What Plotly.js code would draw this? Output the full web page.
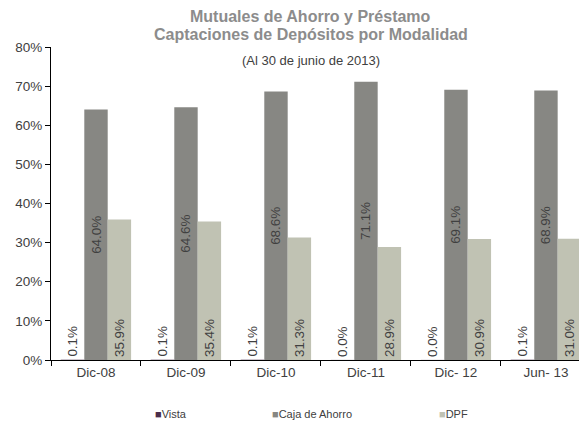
<!DOCTYPE html>
<html>
<head>
<meta charset="utf-8">
<script src="https://cdn.plot.ly/plotly-3.0.1.min.js"></script>
<style>html,body{margin:0;padding:0;background:#fff;}#chart{width:579px;height:421px;}</style>
</head>
<body>
<div id="chart"></div>
<script>
const categories = ["Dic-08", "Dic-09", "Dic-10", "Dic-11", "Dic- 12", "Jun- 13"];
const seriesNames = ["Vista", "Caja de Ahorro", "DPF"];
const vista = [0.1, 0.1, 0.1, 0.0, 0.0, 0.1];
const cajaAhorro = [64.0, 64.6, 68.6, 71.1, 69.1, 68.9];
const dpf = [35.9, 35.4, 31.3, 28.9, 30.9, 31.0];
const yTicks = [0, 10, 20, 30, 40, 50, 60, 70, 80];
const yTickLabels = yTicks.map(v => v + "%");

const FONT = "Liberation Sans";
const colors = ["#4b2d4b", "#878783", "#c0c2b3"];
const fmt = arr => arr.map(v => v.toFixed(1) + "%");
const labelFont = {family: FONT, size: 13.4, color: "#404040"};

const traces = [
  {type: "bar", name: seriesNames[0], x: categories, y: vista, marker: {color: colors[0], line: {color: "#d9d4d9", width: 0.5}},
   text: fmt(vista), textposition: "outside", constraintext: "none", textangle: -90, textfont: labelFont, outsidetextfont: labelFont, cliponaxis: false, hoverinfo: "none"},
  {type: "bar", name: seriesNames[1], x: categories, y: cajaAhorro, marker: {color: colors[1]},
   text: fmt(cajaAhorro), textposition: "inside", constraintext: "none", insidetextanchor: "middle", textangle: -90, textfont: labelFont, insidetextfont: labelFont, hoverinfo: "none"},
  {type: "bar", name: seriesNames[2], x: categories, y: dpf, marker: {color: colors[2]},
   text: fmt(dpf), textposition: "inside", constraintext: "none", insidetextanchor: "start", textangle: -90, textfont: labelFont, insidetextfont: labelFont, hoverinfo: "none"}
];

const legendX = [0.193, 0.415, 0.731];
const legendAnn = seriesNames.map((n, i) => ({
  text: "<span style='color:" + colors[i] + "'>■</span>" + n,
  xref: "paper", yref: "paper", x: legendX[i], y: -0.1725, xanchor: "left", yanchor: "middle",
  showarrow: false, font: {family: FONT, size: 11, color: "#404040"}
}));

const layout = {
  width: 579, height: 421,
  margin: {l: 51, r: 0, t: 47, b: 61},
  paper_bgcolor: "#ffffff", plot_bgcolor: "#ffffff",
  font: {family: FONT, color: "#404040", size: 13.5},
  barmode: "group", bargap: 0.22, bargroupgap: 0,
  showlegend: false,
  annotations: [
    {text: "<b>Mutuales de Ahorro y Préstamo</b>", xref: "paper", yref: "paper", x: 0.492, y: 1, yshift: 31, yanchor: "middle",
     xanchor: "center", showarrow: false, font: {family: FONT, size: 16, color: "#8c8c8c"}},
    {text: "<b>Captaciones de Depósitos por Modalidad</b>", xref: "paper", yref: "paper", x: 0.492, y: 1, yshift: 13, yanchor: "middle",
     xanchor: "center", showarrow: false, font: {family: FONT, size: 16, color: "#8c8c8c"}},
    {text: "(Al 30 de junio de 2013)", xref: "paper", yref: "paper", x: 0.492, y: 1, yshift: -13, yanchor: "middle",
     xanchor: "center", showarrow: false, font: {family: FONT, size: 13, color: "#404040"}}
  ].concat(legendAnn),
  xaxis: {type: "category", range: [-0.5, 5.367], showgrid: false, zeroline: false,
          showline: true, linecolor: "#000000", linewidth: 1,
          ticks: "outside", tickson: "boundaries", ticklen: 5, tickcolor: "#000000",
          tickfont: {family: FONT, size: 13.5, color: "#404040"}, fixedrange: true},
  yaxis: {range: [0, 80], tickvals: yTicks, ticktext: yTickLabels, showgrid: false, zeroline: false,
          showline: true, linecolor: "#000000", linewidth: 1,
          ticks: "outside", ticklen: 5, tickcolor: "#000000",
          tickfont: {family: FONT, size: 13.5, color: "#404040"}, fixedrange: true}
};

Plotly.newPlot("chart", traces, layout, {staticPlot: true, displayModeBar: false});
</script>
</body>
</html>
